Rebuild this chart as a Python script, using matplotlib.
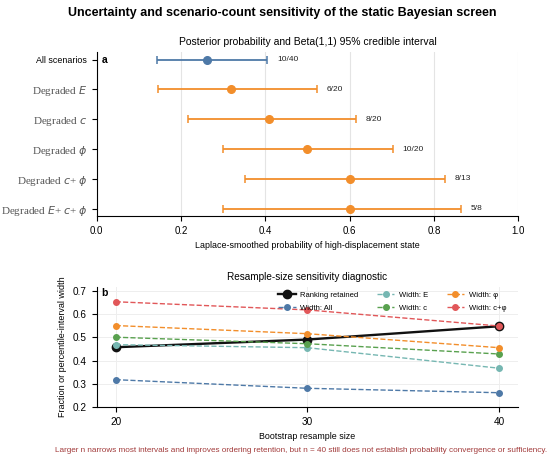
import numpy as np
import matplotlib.pyplot as plt

# ---------------- data: panel a ----------------
labels_a = ["All scenarios", "Degraded $E$", "Degraded $c$", "Degraded $\\phi$",
            "Degraded $c$+ $\\phi$", "Degraded $E$+ $c$+ $\\phi$"]
post_mean = [0.262, 0.318, 0.409, 0.500, 0.600, 0.600]
ci_low = [0.143, 0.145, 0.218, 0.300, 0.352, 0.300]
ci_high = [0.405, 0.522, 0.615, 0.703, 0.825, 0.865]
counts = ["10/40", "6/20", "8/20", "10/20", "8/13", "5/8"]

# ---------------- data: panel b ----------------
n_boot = [20, 30, 40]
ranking_retained = [0.457, 0.490, 0.547]
width_all = [0.318, 0.281, 0.262]
width_E = [0.468, 0.455, 0.367]
width_c = [0.500, 0.472, 0.428]
width_phi = [0.550, 0.515, 0.455]
width_cphi = [0.652, 0.617, 0.548]

BLUE = "#4e79a7"
ORANGE = "#f28e2b"
GREEN = "#59a14f"
TEAL = "#76b7b2"
RED = "#e15759"

plt.rcParams["font.family"] = ["Liberation Sans", "DejaVu Sans"]

fig = plt.figure(figsize=(5.5, 4.57), dpi=100)
fig.text(0.513, 0.972, "Uncertainty and scenario-count sensitivity of the static Bayesian screen",
         fontsize=9.0, fontweight="bold", ha="center", va="center")

# ---------------- panel a ----------------
ax1 = fig.add_axes([0.1755, 0.527, 0.767, 0.359])
y = np.arange(len(labels_a))
for i in range(len(labels_a)):
    col = BLUE if i == 0 else ORANGE
    ax1.errorbar(post_mean[i], y[i],
                 xerr=[[post_mean[i] - ci_low[i]], [ci_high[i] - post_mean[i]]],
                 fmt="o", color=col, ms=5.5, elinewidth=1.3, capsize=3, capthick=1.1)
    ax1.text(ci_high[i] + 0.023, y[i], counts[i], va="center", fontsize=6.0, color="#222222")

ax1.set_yticks(y)
ax1.set_yticklabels(labels_a)
for i, t in enumerate(ax1.get_yticklabels()):
    if i == 0:
        t.set_fontsize(6.4)
    else:
        t.set_fontfamily(["Liberation Serif", "DejaVu Serif"])
        t.set_fontsize(8.0)
        t.set_color("#555555")
ax1.set_ylim(5.25, -0.25)
ax1.set_xlim(0, 1)
ax1.set_xticks([0, 0.2, 0.4, 0.6, 0.8, 1.0])
ax1.tick_params(axis="x", labelsize=7)
ax1.grid(axis="x", color="#e4e4e4", lw=0.8)
ax1.set_axisbelow(True)
ax1.spines["top"].set_visible(False)
ax1.spines["right"].set_visible(False)
ax1.set_title("Posterior probability and Beta(1,1) 95% credible interval", fontsize=7.5, pad=5)
ax1.set_xlabel("Laplace-smoothed probability of high-displacement state", fontsize=6.4)
ax1.text(0.012, 0.985, "a", transform=ax1.transAxes, fontsize=7.5, fontweight="bold", va="top")

# ---------------- panel b ----------------
ax2 = fig.add_axes([0.1755, 0.109, 0.767, 0.264])
ax2.plot(n_boot, ranking_retained, "-o", color="#111111", lw=1.7, ms=6, label="Ranking retained")
series = [(width_all, BLUE, "Width: All"), (width_E, TEAL, "Width: E"),
          (width_c, GREEN, "Width: c"), (width_phi, ORANGE, "Width: φ"),
          (width_cphi, RED, "Width: c+φ")]
for vals, col, lab in series:
    ax2.plot(n_boot, vals, "--o", color=col, lw=1.0, ms=4, label=lab)

ax2.set_xlim(19, 41)
ax2.set_ylim(0.2, max(width_cphi) * 1.1)
ax2.set_xticks(n_boot)
ax2.set_yticks([0.2, 0.3, 0.4, 0.5, 0.6, 0.7])
ax2.tick_params(labelsize=7.2)
ax2.grid(color="#eeeeee", lw=0.7)
ax2.set_axisbelow(True)
ax2.spines["top"].set_visible(False)
ax2.spines["right"].set_visible(False)
ax2.set_title("Resample-size sensitivity diagnostic", fontsize=7.2, pad=5)
ax2.set_xlabel("Bootstrap resample size", fontsize=6.4)
ax2.set_ylabel("Fraction or percentile-interval width", fontsize=6.5)
ax2.text(0.012, 0.985, "b", transform=ax2.transAxes, fontsize=7.5, fontweight="bold", va="top")
ax2.legend(loc="upper right", ncol=3, frameon=False, fontsize=5.5, handlelength=2.3,
           handletextpad=0.6, columnspacing=2.4, borderaxespad=1.2, labelspacing=0.7,
           bbox_to_anchor=(1.0, 1.06))

fig.text(0.547, 0.010, "Larger n narrows most intervals and improves ordering retention, "
         "but n = 40 still does not establish probability convergence or sufficiency.",
         ha="center", fontsize=5.9, color="#a23b3b")

fig.savefig("out.png", dpi=100)
